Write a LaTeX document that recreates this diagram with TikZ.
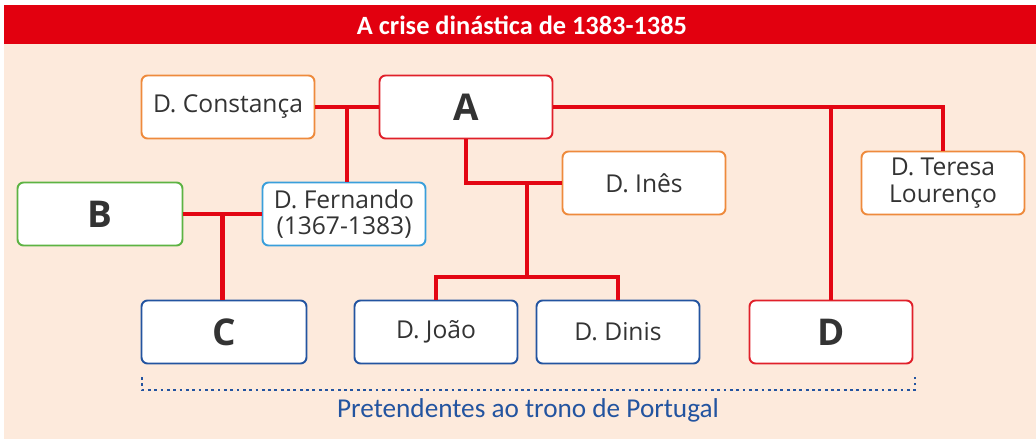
\documentclass[tikz,border=0pt]{standalone}
\usepackage{fontspec}
\setmainfont{Open Sans}
\newfontfamily\titlefont{Carlito}
\usepackage{xcolor}
\usetikzlibrary{calc}

\definecolor{bannerred}{HTML}{E2000F}
\definecolor{peach}{HTML}{FDEADC}
\definecolor{linkred}{HTML}{E30613}
\definecolor{orangeline}{HTML}{EE8A3C}
\definecolor{greenline}{HTML}{5DB343}
\definecolor{skyline}{HTML}{3A9FDB}
\definecolor{navyline}{HTML}{2354A0}
\definecolor{redline}{HTML}{E0202A}
\definecolor{inktext}{HTML}{333333}

\begin{document}
\begin{tikzpicture}[x=0.02cm, y=-0.02cm,
  every node/.style={font=\fontsize{14}{15}\selectfont, text=inktext},
  person/.style={draw, line width=1.1pt, rounded corners=0.12cm, fill=white,
    minimum width=3.26cm, minimum height=1.26cm, align=center, inner sep=2pt},
  wife/.style={person, draw=orangeline},
  king/.style={person, draw=redline},
  heir/.style={person, draw=navyline},
  letter/.style={font=\fontsize{21}{24}\selectfont\bfseries},
  link/.style={draw=linkred, line width=2.8pt},
]
\useasboundingbox (0,0) rectangle (1036,439);
% background and banner
\fill[peach] (4,44) rectangle (1036,439);
\fill[bannerred] (4,5) rectangle (1036,44);
\node[text=white, font=\titlefont\fontsize{15}{16}\selectfont\bfseries] (title) at (522,25) {A crise dinástica de 1383-1385};

% people
\node[wife, minimum width=3.46cm] (cons) at (228,107) {D. Constança};
\node[king, minimum width=3.46cm, letter] (a) at (466,107) {A};
\node[person, draw=greenline, minimum width=3.3cm, letter] (b) at (100,214) {B};
\node[person, draw=skyline] (fern) at (344,214) {D. Fernando\\(1367-1383)};
\node[wife] (ines) at (644,183) {D. Inês};
\node[wife] (tere) at (943,183) {D. Teresa\\Lourenço};
\node[heir, minimum width=3.3cm, letter] (c) at (224,332) {C};
\node[heir] (joao) at (436,332) {D. João};
\node[heir] (dinis) at (618,332) {D. Dinis};
\node[king, letter] (d) at (831,332) {D};

% family links
\coordinate (m1) at ($(cons.east)!.5!(a.west)$);
\coordinate (m2) at ($(b.east)!.5!(fern.west)$);
\coordinate (m3) at ($(joao.north)!.5!(dinis.north)$);
\draw[link] (cons.east) -- (a.west);
\draw[link] (m1) -- (m1 |- fern.north);
\draw[link] (b.east) -- (fern.west);
\draw[link] (m2) -- (m2 |- c.north);
\draw[link] (a.east) -| (tere.north);
\draw[link] (a.east -| d.north) -- (d.north);
\draw[link] (a.south) |- (ines.west);
\draw[link] (m3 |- ines.west) -- (m3 |- 0,277);
\draw[link] (joao.north) |- (m3 |- 0,277) -| (dinis.north);

% claimants bracket
\coordinate (bl) at (142,390);
\coordinate (br) at (915,390);
\draw[navyline, line width=1.6pt, dotted] ($(bl)+(0,-13)$) -- (bl) -- (br) -- ($(br)+(0,-13)$);
\node[text=navyline, font=\titlefont\fontsize{15.5}{18}\selectfont] (claim) at (528,410) {Pretendentes ao trono de Portugal};
\end{tikzpicture}
\end{document}
